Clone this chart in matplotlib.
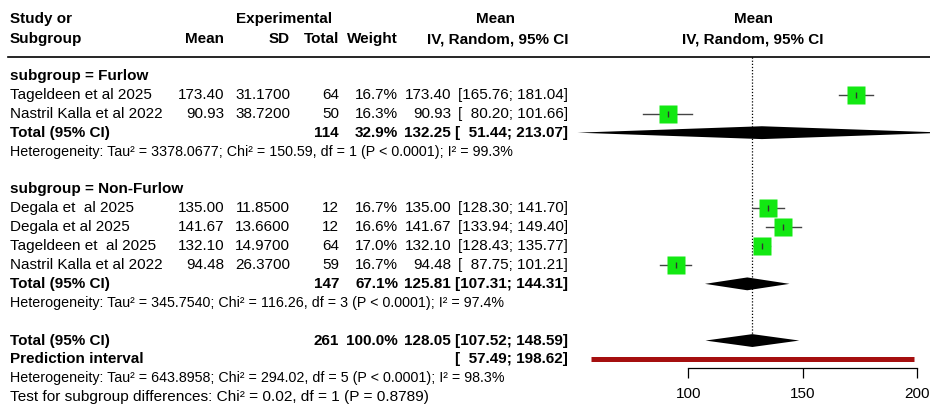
import numpy as np
import matplotlib.pyplot as plt

plt.rcParams['font.family'] = ['Liberation Sans', 'DejaVu Sans']

# study level data
studies = ["Tageldeen et al 2025", "Nastril Kalla et al 2022",
           "Degala et  al 2025", "Degala et al 2025", "Tageldeen et  al 2025", "Nastril Kalla et al 2022"]
group = ["Furlow", "Furlow", "Non-Furlow", "Non-Furlow", "Non-Furlow", "Non-Furlow"]
mean = [173.40, 90.93, 135.00, 141.67, 132.10, 94.48]
sd = [31.17, 38.72, 11.85, 13.66, 14.97, 26.37]
total = [64, 50, 12, 12, 64, 59]
weight = [16.7, 16.3, 16.7, 16.6, 17.0, 16.7]
ci_lo = [165.76, 80.20, 128.30, 133.94, 128.43, 87.75]
ci_hi = [181.04, 101.66, 141.70, 149.40, 135.77, 101.21]

# subgroup / overall pooled results
sub_names = ["Furlow", "Non-Furlow"]
sub_total = [114, 147]
sub_weight = [32.9, 67.1]
sub_est = [132.25, 125.81]
sub_lo = [51.44, 107.31]
sub_hi = [213.07, 144.31]
sub_het = ["Heterogeneity: Tau² = 3378.0677; Chi² = 150.59, df = 1 (P < 0.0001); I² = 99.3%",
           "Heterogeneity: Tau² = 345.7540; Chi² = 116.26, df = 3 (P < 0.0001); I² = 97.4%"]
all_total = 261
all_est, all_lo, all_hi = 128.05, 107.52, 148.59
pred_lo, pred_hi = 57.49, 198.62
all_het = "Heterogeneity: Tau² = 643.8958; Chi² = 294.02, df = 5 (P < 0.0001); I² = 98.3%"
sub_test = "Test for subgroup differences: Chi² = 0.02, df = 1 (P = 0.8789)"
xticks = [100, 150, 200]

# row layout (row units, 0 = first subgroup label)
rows_study = [1, 2, 7, 8, 9, 10]
rows_label = [0, 6]
rows_total = [3, 11]
rows_het = [4, 12]
row_all, row_pred, row_allhet, row_test = 14, 15, 16, 17
ylim = (17.41, -4.02)

fig = plt.figure(figsize=(9.3, 4.05), dpi=100)
tx = fig.add_axes([0, 0, 1, 1])
tx.set_xlim(0, 930)
tx.set_ylim(*ylim)
tx.axis('off')

fs = 11
fs_small = 10.3
bold = dict(fontsize=fs, fontweight='bold', va='center')
norm = dict(fontsize=fs, va='center')
FS = '\u2007'  # figure space for number padding

def ci_txt(lo, hi):
    return "[" + f"{lo:6.2f}".replace(" ", FS) + "; " + f"{hi:6.2f}".replace(" ", FS) + "]"

# column x positions (pixels)
x_study, x_mean, x_sd, x_tot, x_w, x_est, x_ci = 10, 224, 290, 339, 398, 451, 568

# header
tx.text(x_study, -3.0, "Study or", ha='left', **bold)
tx.text(x_study, -1.95, "Subgroup", ha='left', **bold)
tx.text(284, -3.0, "Experimental", ha='center', **bold)
tx.text(x_mean, -1.95, "Mean", ha='right', **bold)
tx.text(x_sd, -1.95, "SD", ha='right', **bold)
tx.text(x_tot, -1.95, "Total", ha='right', **bold)
tx.text(x_w, -1.95, "Weight", ha='right', **bold)
tx.text(495, -3.0, "Mean", ha='center', **bold)
tx.text(x_ci, -1.95, "IV, Random, 95% CI", ha='right', **bold)
tx.text(753, -3.0, "Mean", ha='center', **bold)
tx.text(753, -1.95, "IV, Random, 95% CI", ha='center', **bold)
tx.plot([8, 930], [-1.0, -1.0], color='black', lw=1.2)

for i in range(len(studies)):
    r = rows_study[i]
    tx.text(x_study, r, studies[i], ha='left', **norm)
    tx.text(x_mean, r, f"{mean[i]:.2f}", ha='right', **norm)
    tx.text(x_sd, r, f"{sd[i]:.4f}", ha='right', **norm)
    tx.text(x_tot, r, f"{total[i]}", ha='right', **norm)
    tx.text(x_w, r, f"{weight[i]:.1f}%", ha='right', **norm)
    tx.text(x_est, r, f"{mean[i]:.2f}", ha='right', **norm)
    tx.text(x_ci, r, ci_txt(ci_lo[i], ci_hi[i]), ha='right', **norm)

for j in range(len(sub_names)):
    tx.text(x_study, rows_label[j], f"subgroup = {sub_names[j]}", ha='left', **bold)
    r = rows_total[j]
    tx.text(x_study, r, "Total (95% CI)", ha='left', **bold)
    tx.text(x_tot, r, f"{sub_total[j]}", ha='right', **bold)
    tx.text(x_w, r, f"{sub_weight[j]:.1f}%", ha='right', **bold)
    tx.text(x_est, r, f"{sub_est[j]:.2f}", ha='right', **bold)
    tx.text(x_ci, r, ci_txt(sub_lo[j], sub_hi[j]), ha='right', **bold)
    tx.text(x_study, rows_het[j], sub_het[j], ha='left', fontsize=fs_small, va='center')

tx.text(x_study, row_all, "Total (95% CI)", ha='left', **bold)
tx.text(x_tot, row_all, f"{all_total}", ha='right', **bold)
tx.text(x_w, row_all, "100.0%", ha='right', **bold)
tx.text(x_est, row_all, f"{all_est:.2f}", ha='right', **bold)
tx.text(x_ci, row_all, ci_txt(all_lo, all_hi), ha='right', **bold)
tx.text(x_study, row_pred, "Prediction interval", ha='left', **bold)
tx.text(x_ci, row_pred, ci_txt(pred_lo, pred_hi), ha='right', **bold)
tx.text(x_study, row_allhet, all_het, ha='left', fontsize=fs_small, va='center')
tx.text(x_study, row_test, sub_test, ha='left', fontsize=11.1, va='center')

# forest panel
ax = fig.add_axes([575 / 930, 0, 355 / 930, 1])
ax.set_xlim(50.4, 205.8)
ax.set_ylim(*ylim)
ax.patch.set_alpha(0)
for s in ['top', 'right', 'left']:
    ax.spines[s].set_visible(False)
ax.set_yticks([])

ax.plot([all_est, all_est], [-1.0, row_all - 0.36], color='black', lw=0.9, ls=(0, (1, 1.5)))

for i in range(len(studies)):
    r = rows_study[i]
    ax.plot([ci_lo[i], ci_hi[i]], [r, r], color='#444444', lw=1.0, zorder=2)
    ax.plot(mean[i], r, marker='s', ms=13.2 * np.sqrt(weight[i] / 16.7), color='#12e812',
            mec='none', zorder=3)
    ax.plot(mean[i], r, marker='|', ms=4, color='#333333', mew=1.0, zorder=4)

def diamond(est, lo, hi, r, h=0.34):
    ax.fill([lo, est, hi, est], [r, r - h, r, r + h], color='black', lw=0, zorder=3)

for j in range(len(sub_names)):
    diamond(sub_est[j], sub_lo[j], sub_hi[j], rows_total[j])
diamond(all_est, all_lo, all_hi, row_all)

ax.plot([pred_lo, pred_hi], [row_pred, row_pred], color='#a50f0f', lw=3.6, solid_capstyle='butt')

ax.spines['bottom'].set_position(('data', 15.45))
ax.spines['bottom'].set_bounds(xticks[0], xticks[-1])
ax.spines['bottom'].set_linewidth(0.9)
ax.set_xticks(xticks)
ax.tick_params(axis='x', direction='out', length=7, width=0.9, pad=7, labelsize=fs)

plt.savefig("out.png", dpi=100)
